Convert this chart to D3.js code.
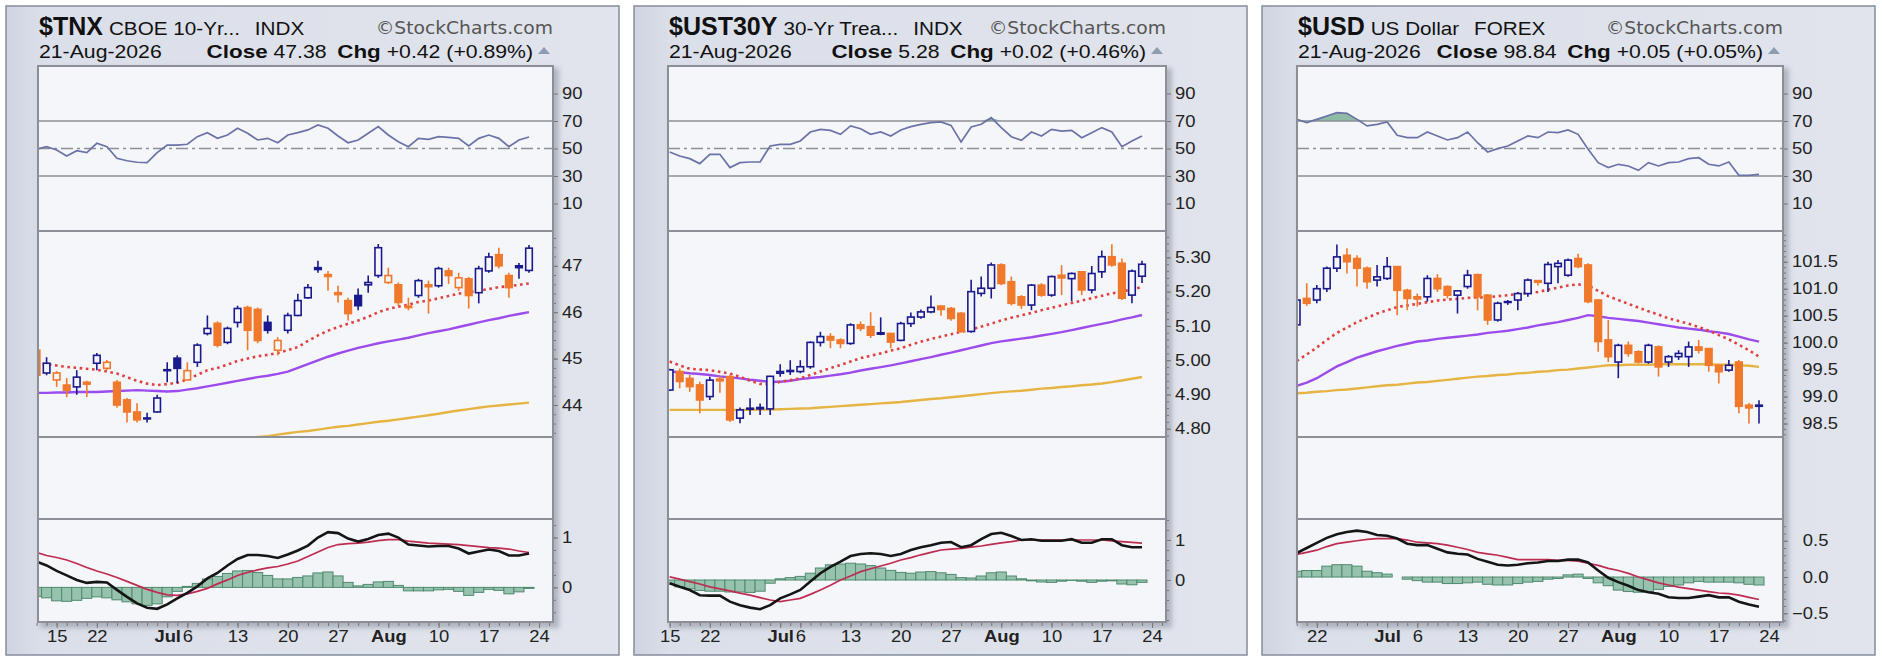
<!DOCTYPE html>
<html>
<head>
<meta charset="utf-8">
<title>Rates and Dollar</title>
<script src="https://cdnjs.cloudflare.com/ajax/libs/d3/7.8.5/d3.min.js"></script>
<style>
  body { margin: 0; background: #ffffff; }
  svg { display: block; font-family: "Liberation Sans", Arial, sans-serif; }
  .tick text { font-size: 16px; fill: #222; }
  .tick line { stroke: #777; }
</style>
</head>
<body>
<script>
// ---------- DATA ----------
// US bond market holidays in the window; forex trades through them
var usClosed = ["2026-06-19", "2026-07-03"];

// $TNX, 11-Jun .. 21-Aug
var tnxOpen  = [45.18,44.69,44.54,44.43,44.39,44.49,44.90,44.79,44.49,44.11,43.85,43.70,43.85,44.74,45.01,44.54,44.92,45.54,45.76,45.35,45.78,46.10,46.06,45.78,45.18,45.61,45.93,46.31,46.96,46.81,46.42,46.25,46.36,46.59,46.79,46.64,46.59,46.13,46.36,46.59,46.57,46.89,46.53,46.72,46.42,46.89,47.24,46.79,47.00,46.90];
var tnxHigh  = [45.22,45.03,44.73,44.58,44.75,44.52,45.12,44.97,44.54,44.15,44.04,43.83,44.22,44.92,45.07,44.92,45.33,45.93,45.80,45.69,46.14,46.14,46.10,45.93,45.46,45.99,46.40,46.61,47.11,46.89,46.57,46.31,46.51,46.79,47.47,46.96,46.64,46.31,46.72,46.68,46.98,46.96,46.85,46.76,47.00,47.28,47.39,46.85,47.06,47.45];
var tnxLow   = [44.60,44.64,44.39,44.17,44.22,44.17,44.75,44.75,43.94,43.62,43.62,43.62,43.83,44.49,44.47,44.54,44.82,45.50,45.24,45.31,45.67,45.18,45.33,45.54,45.07,45.54,45.91,46.29,46.85,46.46,46.21,45.82,46.04,46.42,46.74,46.61,46.14,46.04,46.31,45.97,46.53,46.61,46.46,46.08,46.19,46.85,46.94,46.31,46.72,46.85];
var tnxClose = [44.64,44.90,44.69,44.32,44.60,44.45,45.07,44.92,44.00,43.85,43.68,43.72,44.15,44.76,44.79,44.74,45.29,45.65,45.29,45.65,46.08,45.61,45.39,45.61,45.39,45.93,46.25,46.53,46.92,46.77,46.38,45.97,46.14,46.64,47.39,46.79,46.21,46.10,46.68,46.55,46.94,46.79,46.74,46.36,46.94,47.19,47.00,46.53,46.96,47.38];
var tnxEma20 = [44.90,44.88,44.85,44.82,44.80,44.78,44.76,44.72,44.68,44.60,44.52,44.46,44.43,44.45,44.48,44.55,44.65,44.75,44.80,44.87,44.95,45.00,45.05,45.08,45.12,45.18,45.25,45.38,45.50,45.60,45.68,45.75,45.82,45.90,46.00,46.07,46.12,46.16,46.22,46.25,46.30,46.35,46.40,46.43,46.46,46.50,46.54,46.56,46.59,46.62];
var tnxSma50 = [44.26,44.26,44.27,44.27,44.28,44.28,44.28,44.29,44.30,44.31,44.32,44.31,44.30,44.29,44.30,44.33,44.36,44.40,44.44,44.48,44.52,44.56,44.60,44.63,44.67,44.72,44.80,44.88,44.96,45.04,45.11,45.17,45.23,45.28,45.33,45.37,45.41,45.45,45.50,45.55,45.59,45.63,45.68,45.73,45.78,45.83,45.87,45.92,45.96,46.00];
var tnxSma200 = [null,null,null,null,null,null,null,null,null,null,null,null,null,null,null,null,null,null,null,null,43.25,43.28,43.31,43.33,43.36,43.39,43.42,43.44,43.47,43.50,43.53,43.55,43.58,43.61,43.64,43.66,43.69,43.72,43.75,43.78,43.81,43.85,43.88,43.91,43.94,43.97,43.99,44.01,44.03,44.05];
var tnxRsi = [49.4,51.3,48.9,44.5,48.4,47.0,53.8,51.3,42.9,41.1,40.0,39.7,47.0,52.5,52.5,53.1,58.6,61.5,57.4,59.8,64.7,61.1,56.2,57.4,54.2,59.8,61.5,63.5,67.1,64.7,59.1,54.2,56.2,61.1,65.9,59.8,54.9,51.3,57.4,56.7,58.6,58.1,57.4,51.8,57.4,59.8,57.4,51.3,56.2,58.4];
var tnxMacd = [0.52,0.44,0.33,0.24,0.15,0.09,0.11,0.10,-0.05,-0.19,-0.32,-0.41,-0.43,-0.34,-0.22,-0.11,0.02,0.18,0.29,0.44,0.57,0.65,0.65,0.63,0.59,0.66,0.74,0.84,1.00,1.11,1.09,0.98,0.92,0.97,1.05,1.08,1.00,0.86,0.84,0.82,0.83,0.83,0.78,0.68,0.72,0.76,0.73,0.64,0.64,0.68];
var tnxSignal = [0.70,0.64,0.60,0.55,0.48,0.40,0.33,0.27,0.20,0.12,0.04,-0.04,-0.10,-0.15,-0.16,-0.13,-0.08,-0.02,0.07,0.15,0.24,0.30,0.35,0.39,0.42,0.47,0.53,0.62,0.71,0.80,0.86,0.88,0.89,0.91,0.94,0.96,0.96,0.93,0.91,0.89,0.88,0.87,0.86,0.84,0.82,0.80,0.79,0.77,0.73,0.70];
var tnxHist = [-0.18,-0.21,-0.27,-0.28,-0.26,-0.22,-0.19,-0.21,-0.25,-0.29,-0.33,-0.36,-0.33,-0.19,-0.08,0.02,0.08,0.17,0.22,0.28,0.33,0.34,0.30,0.24,0.17,0.17,0.20,0.23,0.29,0.31,0.23,0.10,0.03,0.06,0.11,0.12,0.04,-0.07,-0.07,-0.07,-0.05,-0.04,-0.08,-0.16,-0.10,-0.04,-0.06,-0.13,-0.09,-0.02];

// $UST30Y, 15-Jun .. 21-Aug
var ustOpen  = [4.913,4.967,4.947,4.928,4.894,4.945,4.952,4.831,4.857,4.858,4.858,4.962,4.967,4.967,4.981,5.052,5.069,5.059,5.049,5.103,5.098,5.080,5.078,5.058,5.107,5.126,5.141,5.158,5.151,5.137,5.084,5.195,5.210,5.278,5.229,5.185,5.161,5.219,5.190,5.248,5.238,5.258,5.205,5.258,5.302,5.283,5.190,5.245];
var ustHigh  = [4.975,4.976,4.957,4.937,4.952,4.955,4.957,4.862,4.889,4.874,4.955,4.988,5.000,5.000,5.055,5.083,5.079,5.064,5.108,5.113,5.140,5.125,5.080,5.112,5.139,5.148,5.189,5.160,5.155,5.140,5.235,5.244,5.285,5.283,5.244,5.190,5.222,5.225,5.247,5.277,5.256,5.260,5.275,5.320,5.338,5.297,5.265,5.290];
var ustLow   = [4.910,4.918,4.908,4.845,4.884,4.905,4.820,4.816,4.840,4.840,4.840,4.952,4.957,4.962,4.975,5.040,5.035,5.035,5.045,5.085,5.065,5.073,5.035,5.055,5.097,5.121,5.137,5.130,5.115,5.080,5.080,5.186,5.180,5.219,5.160,5.150,5.146,5.185,5.185,5.190,5.172,5.190,5.195,5.240,5.273,5.176,5.166,5.225];
var ustClose = [4.972,4.938,4.923,4.884,4.942,4.940,4.826,4.855,4.860,4.862,4.953,4.967,4.970,4.981,5.052,5.069,5.059,5.049,5.103,5.093,5.073,5.076,5.053,5.107,5.126,5.141,5.154,5.148,5.122,5.084,5.200,5.210,5.278,5.224,5.166,5.161,5.219,5.190,5.244,5.240,5.253,5.205,5.253,5.302,5.278,5.181,5.260,5.280];
var ustEma20 = [4.996,4.985,4.975,4.973,4.971,4.966,4.961,4.952,4.940,4.931,4.930,4.937,4.942,4.947,4.957,4.967,4.977,4.986,4.996,5.006,5.013,5.020,5.028,5.035,5.045,5.054,5.062,5.069,5.076,5.083,5.089,5.098,5.107,5.116,5.124,5.131,5.138,5.146,5.153,5.160,5.167,5.174,5.181,5.188,5.195,5.201,5.206,5.214];
var ustSma50 = [4.967,4.965,4.962,4.960,4.957,4.953,4.950,4.947,4.943,4.940,4.937,4.937,4.940,4.945,4.948,4.951,4.955,4.959,4.964,4.970,4.975,4.980,4.985,4.991,4.997,5.003,5.009,5.016,5.022,5.029,5.036,5.043,5.050,5.055,5.059,5.063,5.067,5.072,5.077,5.082,5.088,5.094,5.100,5.106,5.112,5.119,5.125,5.132];
var ustSma200 = [4.855,4.855,4.855,4.855,4.855,4.855,4.855,4.855,4.855,4.856,4.856,4.857,4.858,4.859,4.860,4.862,4.864,4.866,4.868,4.870,4.872,4.874,4.876,4.878,4.881,4.884,4.887,4.889,4.892,4.895,4.898,4.901,4.904,4.907,4.909,4.911,4.914,4.917,4.919,4.922,4.924,4.927,4.929,4.932,4.936,4.941,4.946,4.951];
var ustRsi = [47.5,44.5,42.6,39.0,45.8,45.8,36.1,39.7,40.2,40.2,51.8,53.0,53.0,55.5,62.0,63.9,63.2,60.3,66.4,64.4,60.3,62.0,59.1,63.5,65.9,67.6,68.8,69.3,66.8,54.7,65.6,67.6,72.4,65.2,58.6,55.9,62.0,59.1,63.9,62.7,63.2,57.9,61.5,65.2,62.0,51.3,55.5,59.1];
var ustMacd = [-0.08,-0.17,-0.25,-0.38,-0.39,-0.39,-0.54,-0.63,-0.69,-0.73,-0.63,-0.46,-0.36,-0.25,-0.04,0.17,0.33,0.46,0.60,0.65,0.67,0.65,0.60,0.65,0.75,0.82,0.87,0.93,0.95,0.82,0.87,1.02,1.15,1.18,1.10,1.00,1.02,0.98,0.98,0.98,1.02,0.93,0.93,1.02,1.02,0.87,0.82,0.82];
var ustSignal = [0.08,0.02,-0.04,-0.10,-0.17,-0.22,-0.27,-0.33,-0.38,-0.44,-0.50,-0.54,-0.50,-0.46,-0.36,-0.25,-0.13,0.00,0.10,0.21,0.28,0.35,0.42,0.50,0.56,0.63,0.69,0.75,0.77,0.79,0.82,0.85,0.89,0.93,0.96,1.00,1.00,1.00,1.00,1.00,1.00,1.00,1.00,1.00,0.98,0.96,0.94,0.92];
var ustHist = [-0.10,-0.17,-0.22,-0.26,-0.28,-0.28,-0.30,-0.30,-0.31,-0.28,-0.08,0.03,0.06,0.09,0.17,0.30,0.38,0.40,0.42,0.40,0.36,0.30,0.24,0.19,0.17,0.20,0.21,0.18,0.14,0.06,0.05,0.10,0.18,0.20,0.10,0.03,-0.02,-0.05,-0.06,-0.03,-0.01,-0.03,-0.06,-0.03,-0.02,-0.10,-0.12,-0.06];

// $USD, 18-Jun .. 21-Aug (forex calendar)
var usdOpen  = [100.33,100.82,100.79,101.00,101.38,101.62,101.56,101.38,101.16,101.19,101.41,100.97,100.85,100.85,101.19,101.04,100.88,101.04,101.26,100.88,100.42,100.76,100.79,100.91,101.15,101.10,101.41,101.25,101.56,101.44,100.79,100.05,99.64,99.95,99.83,99.64,99.92,99.64,99.74,99.74,99.92,99.89,99.58,99.49,99.64,98.84,98.82];
var usdHigh  = [100.80,101.10,101.07,101.41,101.82,101.75,101.62,101.41,101.44,101.59,101.42,101.00,100.91,101.25,101.27,101.06,100.97,101.35,101.28,100.90,100.76,100.79,100.94,101.19,101.16,101.50,101.53,101.56,101.65,101.47,100.80,100.42,99.98,100.02,99.86,99.98,99.95,99.77,99.86,100.02,100.05,99.90,99.60,99.68,99.68,98.88,98.93];
var usdLow   = [100.30,100.68,100.73,100.94,101.31,101.28,101.04,101.00,101.04,101.16,100.51,100.60,100.67,100.76,100.94,100.82,100.54,101.00,100.60,100.33,100.39,100.70,100.60,100.85,101.06,100.94,101.10,101.22,101.38,100.73,99.83,99.64,99.34,99.74,99.61,99.61,99.37,99.55,99.68,99.55,99.80,99.46,99.24,99.46,98.69,98.50,98.50];
var usdClose = [100.79,100.73,101.00,101.38,101.59,101.50,101.38,101.13,101.22,101.41,100.97,100.82,100.81,101.19,101.00,100.88,100.96,101.25,100.85,100.42,100.73,100.75,100.91,101.16,101.12,101.45,101.47,101.53,101.41,100.76,100.02,99.74,99.95,99.80,99.64,99.95,99.55,99.74,99.80,99.92,99.86,99.58,99.46,99.58,98.82,98.79,98.84];
var usdEma20 = [99.66,99.78,99.91,100.05,100.18,100.28,100.38,100.46,100.54,100.60,100.66,100.69,100.72,100.75,100.78,100.80,100.81,100.83,100.84,100.84,100.86,100.88,100.90,100.92,100.94,100.98,101.02,101.06,101.08,101.06,100.96,100.86,100.79,100.72,100.65,100.58,100.52,100.45,100.40,100.35,100.29,100.22,100.14,100.06,99.96,99.86,99.74];
var usdSma50 = [99.20,99.26,99.34,99.45,99.56,99.64,99.72,99.78,99.84,99.89,99.94,99.98,100.02,100.04,100.07,100.09,100.11,100.13,100.15,100.18,100.20,100.22,100.25,100.28,100.32,100.35,100.38,100.42,100.46,100.51,100.49,100.46,100.44,100.42,100.40,100.37,100.34,100.31,100.28,100.26,100.24,100.21,100.19,100.16,100.11,100.06,100.02];
var usdSma200 = [99.06,99.07,99.09,99.10,99.12,99.13,99.15,99.17,99.19,99.21,99.22,99.24,99.26,99.27,99.29,99.31,99.33,99.35,99.37,99.38,99.40,99.41,99.43,99.44,99.46,99.47,99.49,99.50,99.52,99.54,99.56,99.58,99.58,99.59,99.59,99.59,99.60,99.60,99.60,99.60,99.60,99.60,99.59,99.59,99.58,99.57,99.55];
var usdRsi = [71.2,68.8,71.2,73.6,76.1,75.6,71.2,66.4,67.6,69.3,59.6,57.9,57.9,62.0,59.1,56.2,57.9,62.0,54.2,47.5,49.9,51.8,55.5,59.1,57.9,62.0,61.5,63.5,60.3,49.4,39.7,36.1,38.5,37.3,34.1,39.7,37.3,39.7,40.2,42.6,43.3,38.5,37.3,40.2,30.5,30.5,31.2];
var usdMacd = [0.33,0.40,0.47,0.54,0.59,0.62,0.64,0.62,0.58,0.57,0.53,0.46,0.44,0.44,0.39,0.34,0.32,0.31,0.25,0.21,0.17,0.16,0.17,0.19,0.20,0.22,0.22,0.24,0.24,0.20,0.09,-0.01,-0.07,-0.12,-0.18,-0.21,-0.23,-0.28,-0.29,-0.29,-0.27,-0.25,-0.28,-0.28,-0.34,-0.38,-0.41];
var usdSignal = [0.31,0.34,0.37,0.42,0.46,0.48,0.50,0.52,0.53,0.53,0.53,0.51,0.48,0.47,0.46,0.44,0.41,0.38,0.34,0.32,0.30,0.27,0.24,0.24,0.24,0.24,0.23,0.23,0.22,0.19,0.16,0.12,0.09,0.05,0.00,-0.04,-0.08,-0.11,-0.14,-0.16,-0.18,-0.20,-0.22,-0.23,-0.25,-0.28,-0.31];
var usdHist = [0.08,0.09,0.09,0.15,0.17,0.17,0.15,0.08,0.06,0.04,0.00,-0.03,-0.05,-0.07,-0.07,-0.09,-0.09,-0.08,-0.07,-0.10,-0.11,-0.11,-0.09,-0.07,-0.06,-0.03,-0.02,0.03,0.04,-0.02,-0.08,-0.12,-0.18,-0.20,-0.21,-0.20,-0.17,-0.13,-0.11,-0.08,-0.06,-0.07,-0.07,-0.07,-0.08,-0.10,-0.11];

// ---------- LAYOUT ----------
var W = 1882, H = 662;
var TOP = 66, RSI_B = 231, PRICE_B = 437, VOL_B = 519, MACD_B = 622;
var BAR = 10.05, RIGHT_PAD = 24;
var STRETCH = 1.15;   // the reference lettering is a little wider than Liberation Sans
var BLUE = "#1a1a8e", ORANGE = "#f0792b", PLOT_BG = "#f5f6fa", GRID = "#8c8f96";

function tradingDays(first, last, closed) {
	var fmt = d3.timeFormat("%Y-%m-%d");
	return d3.timeDay.range(new Date(first + "T00:00"), d3.timeDay.offset(new Date(last + "T00:00"), 1))
		.filter(function(d) { return d.getDay() > 0 && d.getDay() < 6 && closed.indexOf(fmt(d)) < 0; });
}

// weekly labels, month names in bold, and the Monday after the last bar
function xLabels(days) {
	var out = [];
	days.forEach(function(d, i) {
		var prev = i ? days[i - 1] : null;
		if (prev && d.getMonth() != prev.getMonth()) {
			out.push({i: i, text: d3.timeFormat("%b")(d), bold: true});
		} else if (prev ? d3.timeMonday.floor(d) > prev : d.getDay() == 1) {
			var soon = days.slice(i + 1, i + 4).some(function(e) { return e.getMonth() != d.getMonth(); });
			if (!soon) out.push({i: i, text: String(d.getDate()), bold: false});
		}
	});
	var next = d3.timeMonday.ceil(d3.timeDay.offset(days[days.length - 1], 1));
	out.push({i: days.length, text: String(next.getDate()), bold: false});
	return out;
}

var panels = [
	{id: "tnx", x0: 6, plotL: 38, plotR: 553, sym: "$TNX", desc: "CBOE 10-Yr...", exch: "INDX",
	 last: "47.38", chg: "+0.42 (+0.89%)", days: tradingDays("2026-06-11", "2026-08-21", usClosed),
	 o: tnxOpen, h: tnxHigh, l: tnxLow, c: tnxClose, ema20: tnxEma20, sma50: tnxSma50, sma200: tnxSma200,
	 rsi: tnxRsi, macd: tnxMacd, signal: tnxSignal, hist: tnxHist,
	 priceDomain: [43.31, 47.75], priceTicks: [44, 45, 46, 47], priceMinor: 0.2, priceFmt: d3.format("d"),
	 macdDomain: [-0.695, 1.373], macdTicks: [0, 1], macdMinor: 0.25, macdFmt: d3.format("d")},
	{id: "ust", x0: 634, plotL: 668, plotR: 1166, sym: "$UST30Y", desc: "30-Yr Trea...", exch: "INDX",
	 last: "5.28", chg: "+0.02 (+0.46%)", days: tradingDays("2026-06-15", "2026-08-21", usClosed),
	 o: ustOpen, h: ustHigh, l: ustLow, c: ustClose, ema20: ustEma20, sma50: ustSma50, sma200: ustSma200,
	 rsi: ustRsi, macd: ustMacd, signal: ustSignal, hist: ustHist,
	 priceDomain: [4.776, 5.377], priceTicks: [4.8, 4.9, 5.0, 5.1, 5.2, 5.3], priceMinor: 0.02, priceFmt: d3.format(".2f"),
	 macdDomain: [-1.05, 1.525], macdTicks: [0, 1], macdMinor: 0.25, macdFmt: d3.format("d")},
	{id: "usd", x0: 1262, plotL: 1297, plotR: 1783, sym: "$USD", desc: "US Dollar", exch: "FOREX",
	 last: "98.84", chg: "+0.05 (+0.05%)", days: tradingDays("2026-06-18", "2026-08-21", []),
	 o: usdOpen, h: usdHigh, l: usdLow, c: usdClose, ema20: usdEma20, sma50: usdSma50, sma200: usdSma200,
	 rsi: usdRsi, macd: usdMacd, signal: usdSignal, hist: usdHist,
	 priceDomain: [98.25, 102.07], priceTicks: [98.5, 99, 99.5, 100, 100.5, 101, 101.5], priceMinor: 0.1, priceFmt: d3.format(".1f"),
	 macdDomain: [-0.62, 0.80], macdTicks: [-0.5, 0, 0.5], macdMinor: 0.1, macdFmt: d3.format(".1f")}
];

// ---------- SVG ----------
var svg = d3.select("body").append("svg").attr("width", W).attr("height", H);
var defs = svg.append("defs");
var grad = defs.append("linearGradient").attr("id", "panelBg").attr("x1", 0).attr("x2", 1).attr("y1", 0).attr("y2", 0);
grad.append("stop").attr("offset", "0%").attr("stop-color", "#cfd4e0");
grad.append("stop").attr("offset", "6%").attr("stop-color", "#dbdfe9");
grad.append("stop").attr("offset", "100%").attr("stop-color", "#e1e4ec");
var blur = defs.append("filter").attr("id", "shadow").attr("x", "-5%").attr("y", "-5%").attr("width", "115%").attr("height", "115%");
blur.append("feGaussianBlur").attr("stdDeviation", 2.5);

// a text element widened horizontally around its anchor point
function wideText(parent, x, y, k) {
	return parent.append("g").attr("transform", "translate(" + x + "," + y + ") scale(" + k + ",1)").append("text");
}

function drawPanel(p) {
	var g = svg.append("g");
	var n = p.c.length;
	var plotW = p.plotR - p.plotL;

	var x = d3.scaleLinear()
		.domain([n - 1 - (plotW - RIGHT_PAD) / BAR, n - 1 + RIGHT_PAD / BAR])
		.range([p.plotL, p.plotR]);
	var yRsi = d3.scaleLinear().domain([-10, 110]).range([RSI_B, TOP]);
	var yPrice = d3.scaleLinear().domain(p.priceDomain).range([PRICE_B, RSI_B]);
	var yMacd = d3.scaleLinear().domain(p.macdDomain).range([MACD_B, VOL_B]);

	// frame
	g.append("rect").attr("x", p.x0).attr("y", 6).attr("width", 613).attr("height", 649)
		.attr("fill", "url(#panelBg)").attr("stroke", "#858d9c").attr("stroke-width", 1.5);
	g.append("rect").attr("x", p.plotL + 2).attr("y", TOP + 2).attr("width", plotW + 4).attr("height", MACD_B - TOP + 4)
		.attr("fill", "#8f95a2").attr("opacity", 0.6).attr("filter", "url(#shadow)");
	g.append("rect").attr("x", p.plotL).attr("y", TOP).attr("width", plotW).attr("height", MACD_B - TOP)
		.attr("fill", PLOT_BG);

	[["rsi", TOP, RSI_B], ["price", RSI_B, PRICE_B], ["macd", VOL_B, MACD_B]].forEach(function(c) {
		defs.append("clipPath").attr("id", "clip-" + c[0] + "-" + p.id).append("rect")
			.attr("x", p.plotL).attr("y", c[1]).attr("width", plotW).attr("height", c[2] - c[1]);
	});

	// ---- RSI ----
	var rsiG = g.append("g").attr("clip-path", "url(#clip-rsi-" + p.id + ")");
	rsiG.append("path").datum(p.rsi)
		.attr("d", d3.area().x(function(d, i) { return x(i); }).y0(yRsi(70)).y1(function(d) { return yRsi(Math.max(d, 70)); }))
		.attr("fill", "#8fbba6").attr("stroke", "none");
	rsiG.append("path").datum(p.rsi)
		.attr("d", d3.area().x(function(d, i) { return x(i); }).y0(yRsi(30)).y1(function(d) { return yRsi(Math.min(d, 30)); }))
		.attr("fill", "#8fbba6").attr("stroke", "none");
	[70, 30].forEach(function(v) {
		rsiG.append("line").attr("x1", p.plotL).attr("x2", p.plotR).attr("y1", yRsi(v)).attr("y2", yRsi(v))
			.attr("stroke", GRID).attr("stroke-width", 1.5);
	});
	rsiG.append("line").attr("x1", p.plotL).attr("x2", p.plotR).attr("y1", yRsi(50)).attr("y2", yRsi(50))
		.attr("stroke", "#8c8f96").attr("stroke-width", 1.4).attr("stroke-dasharray", "12,4,3,4");
	rsiG.append("path").datum(p.rsi)
		.attr("d", d3.line().x(function(d, i) { return x(i); }).y(function(d) { return yRsi(d); }))
		.attr("fill", "none").attr("stroke", "#6a72a8").attr("stroke-width", 1.7);

	// ---- price ----
	var pg = g.append("g").attr("clip-path", "url(#clip-price-" + p.id + ")");
	var maLine = d3.line().defined(function(d) { return d != null; })
		.x(function(d, i) { return x(i); }).y(function(d) { return yPrice(d); });
	pg.append("path").datum(p.sma200).attr("d", maLine)
		.attr("fill", "none").attr("stroke", "#e6b443").attr("stroke-width", 2.4);
	pg.append("path").datum(p.sma50).attr("d", maLine)
		.attr("fill", "none").attr("stroke", "#9c4cec").attr("stroke-width", 2.4);
	pg.append("path").datum(p.ema20).attr("d", maLine)
		.attr("fill", "none").attr("stroke", "#e2403e").attr("stroke-width", 2.6).attr("stroke-dasharray", "2.6,3.6");

	var candles = pg.selectAll(".candle").data(p.c).enter().append("g").attr("class", "candle");
	candles.each(function(close, i) {
		var prev = i ? p.c[i - 1] : p.o[i];
		var col = close >= prev ? BLUE : ORANGE;
		var hollow = close > p.o[i];
		var top = yPrice(Math.max(p.o[i], close)), bot = yPrice(Math.min(p.o[i], close));
		var cg = d3.select(this);
		cg.append("line").attr("x1", x(i)).attr("x2", x(i)).attr("y1", yPrice(p.h[i])).attr("y2", yPrice(p.l[i]))
			.attr("stroke", col).attr("stroke-width", 1.6);
		cg.append("rect").attr("x", x(i) - 3.3).attr("y", top).attr("width", 6.6).attr("height", Math.max(bot - top, 0.8))
			.attr("fill", hollow ? PLOT_BG : col).attr("stroke", col).attr("stroke-width", 1.6);
	});

	// ---- MACD ----
	var mg = g.append("g").attr("clip-path", "url(#clip-macd-" + p.id + ")");
	mg.selectAll(".hist").data(p.hist).enter().append("rect").attr("class", "hist")
		.attr("x", function(d, i) { return x(i) - BAR / 2; })
		.attr("width", BAR)
		.attr("y", function(d) { return yMacd(Math.max(d, 0)); })
		.attr("height", function(d) { return Math.abs(yMacd(d) - yMacd(0)); })
		.attr("fill", "#97c3ae").attr("stroke", "#4f8a6f").attr("stroke-width", 1);
	mg.append("path").datum(p.signal)
		.attr("d", d3.line().x(function(d, i) { return x(i); }).y(function(d) { return yMacd(d); }))
		.attr("fill", "none").attr("stroke", "#be2c50").attr("stroke-width", 1.7);
	mg.append("path").datum(p.macd)
		.attr("d", d3.line().x(function(d, i) { return x(i); }).y(function(d) { return yMacd(d); }))
		.attr("fill", "none").attr("stroke", "#151515").attr("stroke-width", 2.6);

	// pane separators and border
	[RSI_B, PRICE_B, VOL_B].forEach(function(yy) {
		g.append("line").attr("x1", p.plotL).attr("x2", p.plotR).attr("y1", yy).attr("y2", yy)
			.attr("stroke", GRID).attr("stroke-width", 2);
	});
	g.append("rect").attr("x", p.plotL).attr("y", TOP).attr("width", plotW).attr("height", MACD_B - TOP)
		.attr("fill", "none").attr("stroke", GRID).attr("stroke-width", 2);

	// ---- right axes: labels in a pane share one right edge ----
	function rightAxis(scale, ticks, fmt) {
		var a = g.append("g").attr("transform", "translate(" + (p.plotR + 1) + ",0)")
			.call(d3.axisRight(scale).tickValues(ticks).tickFormat(fmt).tickSize(4).tickPadding(3));
		a.select(".domain").remove();
		var texts = a.selectAll("text");
		var maxW = d3.max(texts.nodes(), function(t) { return t.getComputedTextLength(); });
		texts.attr("text-anchor", "end").attr("x", 7 + maxW).attr("transform", "scale(" + STRETCH + ",1)");
		return a;
	}
	function minorAxis(scale, lo, hi, step) {
		var vals = d3.range(Math.ceil(lo / step) * step, hi, step);
		var a = g.append("g").attr("transform", "translate(" + (p.plotR + 1) + ",0)")
			.call(d3.axisRight(scale).tickValues(vals).tickFormat("").tickSize(2));
		a.select(".domain").remove();
		a.selectAll("line").attr("stroke", "#999");
	}
	rightAxis(yRsi, [10, 30, 50, 70, 90], d3.format("d"));
	minorAxis(yPrice, p.priceDomain[0], p.priceDomain[1], p.priceMinor);
	rightAxis(yPrice, p.priceTicks, p.priceFmt);
	minorAxis(yMacd, p.macdDomain[0], p.macdDomain[1], p.macdMinor);
	rightAxis(yMacd, p.macdTicks, p.macdFmt);

	// ---- x axis ----
	var labels = xLabels(p.days).filter(function(d) { return x(d.i) >= p.plotL - 1 && x(d.i) < p.plotR; });
	var labelText = {};
	labels.forEach(function(d) { labelText[d.i] = d; });
	var minor = g.append("g").attr("transform", "translate(0," + (MACD_B + 1) + ")")
		.call(d3.axisBottom(x).tickValues(d3.range(0, n + 2).filter(function(i) { return x(i) < p.plotR; })).tickFormat("").tickSize(3));
	minor.select(".domain").remove();
	minor.selectAll("line").attr("stroke", "#999");
	var xa = g.append("g").attr("transform", "translate(0," + (MACD_B + 1) + ")")
		.call(d3.axisBottom(x).tickValues(labels.map(function(d) { return d.i; }))
			.tickFormat(function(i) { return labelText[i].text; }).tickSize(5).tickPadding(3));
	xa.select(".domain").remove();
	xa.selectAll("text").attr("transform", "scale(" + STRETCH + ",1)")
		.attr("font-weight", function(i) { return labelText[i].bold ? "bold" : "normal"; });

	// ---- header ----
	var sym = g.append("text").attr("x", p.plotL + 1).attr("y", 35).attr("fill", "#111")
		.attr("font-size", 25).attr("font-weight", "bold").text(p.sym);
	var symW = sym.node().getComputedTextLength();
	var t1 = wideText(g, p.plotL + symW + 7, 35, STRETCH).attr("fill", "#111").attr("font-size", 18);
	t1.append("tspan").text(p.desc);
	t1.append("tspan").text(p.exch).attr("dx", 13);
	wideText(g, p.plotR, 34, 1.1).attr("text-anchor", "end")
		.attr("font-family", "DejaVu Sans").attr("font-size", 17).attr("fill", "#555")
		.text("\u00a9StockCharts.com");

	wideText(g, p.plotL + 1, 58, 1.18).attr("font-size", 18).attr("fill", "#111").text("21-Aug-2026");
	var t2 = wideText(g, p.plotR - 20, 58, 1.18).attr("text-anchor", "end").attr("fill", "#111");
	t2.append("tspan").text("Close").attr("font-size", 19).attr("font-weight", "bold");
	t2.append("tspan").text(p.last).attr("dx", 5).attr("font-size", 18);
	t2.append("tspan").text("Chg").attr("dx", 9).attr("font-size", 19).attr("font-weight", "bold");
	t2.append("tspan").text(p.chg).attr("dx", 5).attr("font-size", 18);
	var tx = p.plotR - 9;
	g.append("path").attr("d", d3.line()([[tx - 6, 54], [tx + 6, 54], [tx, 47]]) + "Z").attr("fill", "#8d9cb0");
}

panels.forEach(drawPanel);
</script>
</body>
</html>
